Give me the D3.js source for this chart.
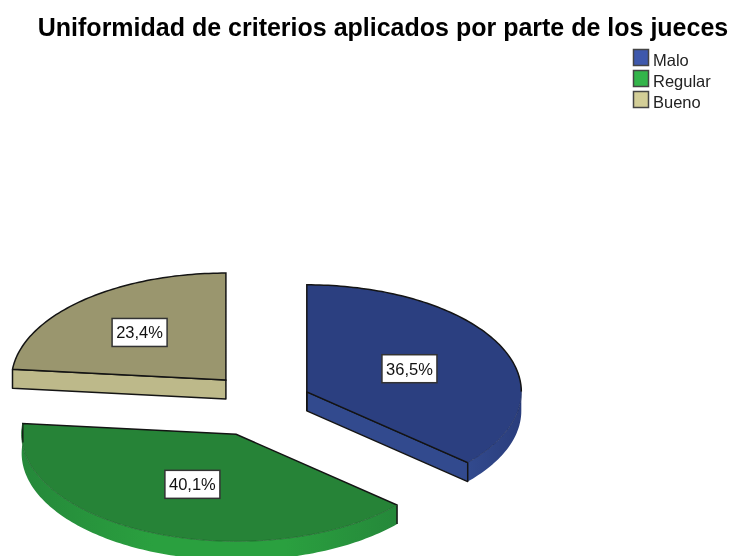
<!DOCTYPE html>
<html><head><meta charset="utf-8">
<script src="https://cdn.jsdelivr.net/npm/d3@7"></script>
<style>html,body{margin:0;padding:0;background:#fff}svg{display:block;filter:blur(0.45px)}text{font-family:"Liberation Sans",Arial,sans-serif}</style>
</head><body><svg id="c" width="730" height="556"></svg>
<script>
const title = "Uniformidad de criterios aplicados por parte de los jueces";
const categories = ["Malo", "Regular", "Bueno"];
const values = [36.5, 40.1, 23.4];
const labels = ["36,5%", "40,1%", "23,4%"];
const topColors = ["#2b3f80", "#268337", "#9a966e"];
const wallColors = ["#324a8e", "#2aa03f", "#bdb98a"];
const wallDark = ["#2a3d7c", "#25883a", "#9a966e"];
const legendColors = ["#3e58ac", "#33b44a", "#d3ce97"];

const W = 730, H = 556, rx = 214.5, ry = 107, depth = 19;
const cx = 258, cy = 405, ex = 52, ey = 32;
const explodeX = [1.03, 1.05, 0.92];
const explodeY = [1, 1, 1.05];
const labelFrac = [0.525, 0.51, 0.6];

const svg = d3.select("#c").attr("viewBox", [0, 0, W, H]);
const defs = svg.append("defs");

svg.append("text").attr("x", 383).attr("y", 36).attr("text-anchor", "middle")
  .attr("font-size", 25).attr("font-weight", "bold").attr("fill", "#000").text(title);

const pie = d3.pie().sort(null).value(d => d)(values);
const pt = (c, a, dy = 0) => [c[0] + rx * Math.sin(a), c[1] - ry * Math.cos(a) + dy];
const arcPts = (c, a0, a1, dy = 0) => {
  const n = Math.max(2, Math.ceil(Math.abs(a1 - a0) / 0.02));
  return d3.range(n + 1).map(i => pt(c, a0 + (a1 - a0) * i / n, dy));
};
const line = d3.line().curve(d3.curveLinear);
const stroke = "#141414";

const slices = pie.map((p, i) => {
  const mid = (p.startAngle + p.endAngle) / 2;
  return { p, i, mid, c: [cx + ex * explodeX[i] * Math.sin(mid), cy - ey * explodeY[i] * Math.cos(mid)] };
});

// back-to-front: Bueno, Malo, Regular
[2, 0, 1].forEach(k => {
  const { p, i, c } = slices[k];
  const g = svg.append("g");
  const a0 = Math.max(p.startAngle, Math.PI / 2), a1 = Math.min(p.endAngle, 1.5 * Math.PI + 0.11);
  // outer wall
  if (a1 > a0) {
    const id = "wall" + i, top = arcPts(c, a0, a1), bot = arcPts(c, a0, a1, depth).reverse();
    const xs = top.map(d => d[0]);
    const gr = defs.append("linearGradient").attr("id", id).attr("gradientUnits", "userSpaceOnUse")
      .attr("x1", d3.min(xs)).attr("x2", d3.max(xs)).attr("y1", 0).attr("y2", 0);
    const stops = i === 0
      ? [[0, wallColors[i]], [1, wallDark[i]]]
      : [[0, wallDark[i]], [0.35, wallColors[i]], [0.7, wallColors[i]], [1, wallDark[i]]];
    stops.forEach(s => gr.append("stop").attr("offset", s[0]).attr("stop-color", s[1]));
    g.append("path").attr("d", line(top.concat(bot)) + "Z").attr("fill", `url(#${id})`);
  }
  // cut faces seen from the front
  if (i === 0) {
    const e = pt(c, p.endAngle);
    g.append("path").attr("d", line([c, e, [e[0], e[1] + depth], [c[0], c[1] + depth]]) + "Z")
      .attr("fill", wallColors[i]).attr("stroke", stroke).attr("stroke-width", 1.5).attr("stroke-linejoin", "round");
  }
  if (i === 2) {
    const s = pt(c, p.startAngle);
    g.append("path").attr("d", line([s, c, [c[0], c[1] + depth], [s[0], s[1] + depth]]) + "Z")
      .attr("fill", wallColors[i]).attr("stroke", stroke).attr("stroke-width", 1.5).attr("stroke-linejoin", "round");
  }
  // top surface
  const rim = arcPts(c, p.startAngle, p.endAngle);
  g.append("path").attr("d", line([c, ...rim]) + "Z").attr("fill", topColors[i]);
  // outline: only back-facing edges are heavy
  if (i === 0) {
    g.append("path").attr("d", line([[c[0], c[1] + depth], c, ...arcPts(c, p.startAngle, Math.PI / 2)]))
      .attr("fill", "none").attr("stroke", stroke).attr("stroke-width", 1.5);
    g.append("path").attr("d", line(arcPts(c, Math.PI / 2, p.endAngle)))
      .attr("fill", "none").attr("stroke", "#1f2e60").attr("stroke-width", 0.8);
    g.append("path").attr("d", line([c, pt(c, p.endAngle)]))
      .attr("fill", "none").attr("stroke", stroke).attr("stroke-width", 1.5);
  }
  if (i === 1) {
    const s = pt(c, p.startAngle), e = pt(c, p.endAngle);
    g.append("path").attr("d", line([[s[0], s[1] + depth], s, c, e, [e[0], e[1] + depth]]))
      .attr("fill", "none").attr("stroke", stroke).attr("stroke-width", 1.5);
    g.append("path").attr("d", line(rim)).attr("fill", "none").attr("stroke", "#1c6029").attr("stroke-width", 0.7);
  }
  if (i === 2) {
    g.append("path").attr("d", line([pt(c, p.startAngle), c, pt(c, p.endAngle), ...rim.slice().reverse()]))
      .attr("fill", "none").attr("stroke", stroke).attr("stroke-width", 1.5);
  }
});

// value labels
slices.forEach(({ i, mid, c }) => {
  const lx = c[0] + rx * labelFrac[i] * Math.sin(mid), ly = c[1] - ry * labelFrac[i] * Math.cos(mid);
  svg.append("rect").attr("x", lx - 27.5).attr("y", ly - 14).attr("width", 55).attr("height", 28)
    .attr("fill", "#fff").attr("stroke", "#333").attr("stroke-width", 1.5);
  svg.append("text").attr("x", lx).attr("y", ly + 6).attr("text-anchor", "middle")
    .attr("font-size", 16.5).attr("fill", "#111").text(labels[i]);
});

// legend
const ly = d3.scalePoint().domain(categories).range([58, 100]);
categories.forEach((n, i) => {
  svg.append("rect").attr("x", 633.5).attr("y", ly(n) - 8.5).attr("width", 15).attr("height", 16)
    .attr("fill", legendColors[i]).attr("stroke", "#444").attr("stroke-width", 1.5);
  svg.append("text").attr("x", 653).attr("y", ly(n) + 7.5).attr("font-size", 16.5).attr("fill", "#222").text(n);
});
</script></body></html>
